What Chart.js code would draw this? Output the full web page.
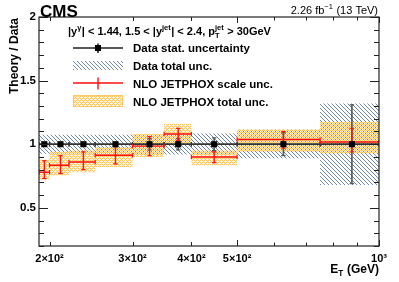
<!DOCTYPE html>
<html><head><meta charset="utf-8">
<script src="https://cdn.jsdelivr.net/npm/chart.js@4.4.0/dist/chart.umd.min.js"></script>
<style>html,body{margin:0;padding:0;background:#fff;overflow:hidden}canvas{display:block}</style>
</head><body>
<canvas id="c" width="399" height="282"></canvas>
<script>
// ---- data ----
const binLo = [190, 200, 220, 250, 300, 350, 400, 500, 750];
const binHi = [200, 220, 250, 300, 350, 400, 500, 750, 1000];
const xCenter = [195, 211, 236, 276, 326, 375, 447, 627, 876];
const dataRatio = [1, 1, 1, 1, 1, 1, 1, 1, 1];
const dataStat = [0.01, 0.01, 0.01, 0.015, 0.045, 0.045, 0.05, 0.09, 0.31];
const dataTotal = [0.075, 0.075, 0.075, 0.075, 0.08, 0.08, 0.085, 0.11, 0.32];
const nloRatio = [0.78, 0.835, 0.86, 0.913, 0.985, 1.08, 0.90, 1.037, 1.018];
const nloScaleLo = [0.73, 0.77, 0.80, 0.845, 0.91, 1.03, 0.855, 0.97, 0.94];
const nloScaleHi = [0.87, 0.91, 0.94, 0.98, 1.06, 1.125, 0.94, 1.10, 1.125];
const nloTotalLo = [0.72, 0.755, 0.78, 0.82, 0.90, 1.01, 0.835, 0.94, 0.93];
const nloTotalHi = [0.88, 0.94, 0.95, 0.976, 1.08, 1.16, 0.95, 1.12, 1.175];
const xTickValues = [200, 300, 400, 500, 600, 700, 800, 900, 1000];
const xTickLabels = ['2\u00d710\u00b2', '3\u00d710\u00b2', '4\u00d710\u00b2', '5\u00d710\u00b2', '', '', '', '', '10\u00b3'];
const yTickValues = [0.5, 1, 1.5, 2];
const yTickLabels = ['0.5', '1', '1.5', '2'];

// ---- patterns ----
function makeHatch() {
  const c = document.createElement('canvas'); c.width = 4; c.height = 4;
  const g = c.getContext('2d');
  g.strokeStyle = '#7088aa'; g.lineWidth = 1;
  g.beginPath();
  g.moveTo(-1, -1); g.lineTo(5, 5);
  g.moveTo(-1, 3); g.lineTo(1, 5);
  g.moveTo(3, -1); g.lineTo(5, 1);
  g.stroke();
  return g.createPattern(c, 'repeat');
}
function makeCross() {
  const c = document.createElement('canvas'); c.width = 4; c.height = 4;
  const g = c.getContext('2d');
  g.fillStyle = '#ffc864'; g.fillRect(0, 0, 4, 4);
  g.globalCompositeOperation = 'destination-out';
  g.fillStyle = 'rgba(0,0,0,1)';
  g.fillRect(1, 1, 1, 1); g.fillRect(3, 3, 1, 1);
  g.fillStyle = 'rgba(0,0,0,0.7)';
  g.fillRect(0, 1, 1, 1); g.fillRect(2, 1, 1, 1); g.fillRect(1, 0, 1, 1); g.fillRect(1, 2, 1, 1);
  g.fillRect(3, 2, 1, 1); g.fillRect(3, 0, 1, 1); g.fillRect(2, 3, 1, 1); g.fillRect(0, 3, 1, 1);
  return g.createPattern(c, 'repeat');
}
const hatch = makeHatch();
const cross = makeCross();

// ---- helpers building library data ----
function stepPts(vals) {
  const pts = [];
  binLo.forEach((lo, i) => { pts.push({ x: lo, y: vals[i] }, { x: binHi[i], y: vals[i] }); });
  return pts;
}
function hSegs(vals) {
  const pts = [];
  binLo.forEach((lo, i) => { pts.push({ x: lo, y: vals[i] }, { x: binHi[i], y: vals[i] }, { x: binHi[i], y: null }); });
  return pts;
}
function vSegs(lo, hi) {
  const pts = [];
  xCenter.forEach((x, i) => { pts.push({ x: x, y: lo[i] }, { x: x, y: hi[i] }, { x: x, y: null }); });
  return pts;
}
const dataUp = dataRatio.map((v, i) => v + dataTotal[i]);
const dataDn = dataRatio.map((v, i) => v - dataTotal[i]);
const statUp = dataRatio.map((v, i) => v + dataStat[i]);
const statDn = dataRatio.map((v, i) => v - dataStat[i]);

const FONT = '"Liberation Sans", Arial, Helvetica, sans-serif';

function drawRich(ctx, segs, x, y, size, weight, align) {
  const items = []; let w = 0;
  for (const s of segs) {
    if (s.t !== undefined) {
      ctx.font = `${weight} ${size}px ${FONT}`;
      const ww = ctx.measureText(s.t).width; items.push({ s, fs: size, w: ww }); w += ww;
    } else {
      const fs = size * 0.68;
      ctx.font = `${weight} ${fs}px ${FONT}`;
      const w1 = s.sup ? ctx.measureText(s.sup).width : 0;
      const w2 = s.sub ? ctx.measureText(s.sub).width : 0;
      const ww = Math.max(w1, w2) + 0.5; items.push({ s, fs, w: ww }); w += ww;
    }
  }
  let cx = align === 'right' ? x - w : x;
  ctx.textAlign = 'left'; ctx.textBaseline = 'alphabetic';
  for (const it of items) {
    ctx.font = `${weight} ${it.fs}px ${FONT}`;
    if (it.s.t !== undefined) ctx.fillText(it.s.t, cx, y);
    else {
      if (it.s.sup) ctx.fillText(it.s.sup, cx, y - size * 0.42);
      if (it.s.sub) ctx.fillText(it.s.sub, cx, y + size * 0.25);
    }
    cx += it.w;
  }
}

const decor = {
  id: 'decor',
  afterDatasetsDraw(chart) {
    const ctx = chart.ctx, a = chart.chartArea, xs = chart.scales.x, ys = chart.scales.y;
    ctx.save();
    ctx.strokeStyle = '#222'; ctx.lineWidth = 1.2;
    ctx.strokeRect(a.left, a.top, a.right - a.left, a.bottom - a.top);
    ctx.lineWidth = 1;
    ctx.beginPath();
    for (let k = 2; k <= 20; k++) {
      const v = k / 10, py = Math.round(ys.getPixelForValue(v)) + 0.5;
      const L = (k % 5 === 0) ? 9 : 5;
      ctx.moveTo(a.left, py); ctx.lineTo(a.left + L, py);
      ctx.moveTo(a.right, py); ctx.lineTo(a.right - L, py);
    }
    xTickValues.forEach((v, i) => {
      const px = Math.round(xs.getPixelForValue(v)) + 0.5;
      const L = (v === 500 || v === 1000) ? 6 : (xTickLabels[i] ? 4 : 3.5);
      ctx.moveTo(px, a.bottom); ctx.lineTo(px, a.bottom - L);
      ctx.moveTo(px, a.top); ctx.lineTo(px, a.top + L);
    });
    ctx.stroke();
    ctx.restore();
  },
  afterDraw(chart) {
    const ctx = chart.ctx;
    ctx.save();
    ctx.fillStyle = '#000';
    ctx.font = `bold 17px ${FONT}`; ctx.textAlign = 'left'; ctx.textBaseline = 'alphabetic';
    ctx.fillText('CMS', 40, 16.5);
    drawRich(ctx, [{ t: '2.26 fb' }, { sup: '\u22121' }, { t: ' (13 TeV)' }], 378, 14, 11, 'normal', 'right');
    drawRich(ctx, [{ t: 'E' }, { sub: 'T' }, { t: ' (GeV)' }], 379, 273, 12, 'bold', 'right');
    ctx.save(); ctx.translate(18, 18); ctx.rotate(-Math.PI / 2);
    drawRich(ctx, [{ t: 'Theory / Data' }], 0, 0, 12, 'bold', 'right');
    ctx.restore();
    drawRich(ctx, [{ t: '|y' }, { sup: '\u03b3' }, { t: '| < 1.44, 1.5 < |y' }, { sup: 'jet' }, { t: '| < 2.4, p' }, { sup: 'jet', sub: 'T' }, { t: ' > 30GeV' }], 68, 35, 11, 'bold', 'left');
    const tx = 133, sx0 = 73, sx1 = 123, sc = 98;
    ctx.font = `bold 11.5px ${FONT}`; ctx.textAlign = 'left';
    ctx.fillText('Data stat. uncertainty', tx, 52);
    ctx.fillText('Data total unc.', tx, 70);
    ctx.fillText('NLO JETPHOX scale unc.', tx, 88);
    ctx.fillText('NLO JETPHOX total unc.', tx, 106);
    ctx.strokeStyle = '#222'; ctx.lineWidth = 1.6;
    ctx.beginPath(); ctx.moveTo(sx0, 48); ctx.lineTo(sx1, 48); ctx.moveTo(sc, 43.5); ctx.lineTo(sc, 53); ctx.stroke();
    ctx.fillStyle = '#000'; ctx.fillRect(sc - 3, 45, 6, 6);
    ctx.fillStyle = hatch; ctx.fillRect(sx0, 61, sx1 - sx0, 9);
    ctx.strokeStyle = '#ff1010'; ctx.lineWidth = 1.4;
    ctx.beginPath(); ctx.moveTo(sx0, 83); ctx.lineTo(sx1, 83); ctx.moveTo(sc, 77.5); ctx.lineTo(sc, 89.5); ctx.stroke();
    ctx.fillStyle = cross; ctx.fillRect(sx0, 95, sx1 - sx0, 12);
    ctx.strokeStyle = '#ffc864'; ctx.lineWidth = 1; ctx.strokeRect(sx0 + 0.5, 95.5, sx1 - sx0 - 1, 11);
    ctx.restore();
  }
};

const capOpts = (color, rot, w) => ({ pointStyle: 'line', pointRadius: 2.2, pointRotation: rot, pointBorderColor: color, pointBorderWidth: w, pointHoverRadius: 0 });

new Chart(document.getElementById('c'), {
  type: 'line',
  data: {
    datasets: [
      { label: 'dataTotUp', data: stepPts(dataUp), borderWidth: 0, pointRadius: 0, fill: false, order: 20 },
      { label: 'dataTotDn', data: stepPts(dataDn), borderWidth: 0, pointRadius: 0, fill: { target: 0 }, backgroundColor: hatch, order: 20 },
      { label: 'nloTotUp', data: stepPts(nloTotalHi), borderWidth: 0, pointRadius: 0, fill: false, order: 15 },
      { label: 'nloTotDn', data: stepPts(nloTotalLo), borderWidth: 0, pointRadius: 0, fill: { target: 2 }, backgroundColor: cross, order: 15 },
      Object.assign({ label: 'dataH', data: hSegs(dataRatio), borderColor: '#333', borderWidth: 1.8, fill: false, order: 10 }, capOpts('#333', 90, 1.2)),
      Object.assign({ label: 'dataV', data: vSegs(statDn, statUp), borderColor: '#555', borderWidth: 1.6, fill: false, order: 10 }, capOpts('#555', 0, 1.2)),
      Object.assign({ label: 'nloH', data: hSegs(nloRatio), borderColor: '#ff1010', borderWidth: 1.4, fill: false, order: 5 }, capOpts('#ff1010', 90, 1.2)),
      Object.assign({ label: 'nloV', data: vSegs(nloScaleLo, nloScaleHi), borderColor: '#ff1010', borderWidth: 1.4, fill: false, order: 5 }, capOpts('#ff1010', 0, 1.2)),
      { label: 'data', data: xCenter.map((x, i) => ({ x: x, y: dataRatio[i] })), showLine: false, pointStyle: 'rect', pointRadius: 4.3, pointBackgroundColor: '#000', pointBorderWidth: 0, order: 1 }
    ]
  },
  options: {
    responsive: false, animation: false, devicePixelRatio: 1,
    layout: { padding: { left: 0, right: 20, top: 17, bottom: 0 } },
    plugins: { legend: { display: false }, tooltip: { enabled: false } },
    events: [],
    scales: {
      x: {
        type: 'logarithmic', min: 190, max: 1000, bounds: 'data',
        afterBuildTicks: s => { s.ticks = xTickValues.map(v => ({ value: v })); },
        afterFit: s => { s.height = 36; },
        ticks: { autoSkip: false, maxRotation: 0, minRotation: 0, padding: 6, color: '#000', font: { family: FONT, size: 11, weight: 'bold' }, callback: (v, i) => xTickLabels[i] },
        grid: { display: false, drawTicks: false }, border: { display: false }
      },
      y: {
        type: 'linear', min: 0.2, max: 2,
        afterBuildTicks: s => { s.ticks = yTickValues.map(v => ({ value: v })); },
        afterFit: s => { s.width = 39; },
        ticks: { padding: 3, color: '#000', font: { family: FONT, size: 11.5, weight: 'bold' }, callback: (v, i) => yTickLabels[i] },
        grid: { display: false, drawTicks: false }, border: { display: false }
      }
    }
  },
  plugins: [decor]
});
</script>
</body></html>
